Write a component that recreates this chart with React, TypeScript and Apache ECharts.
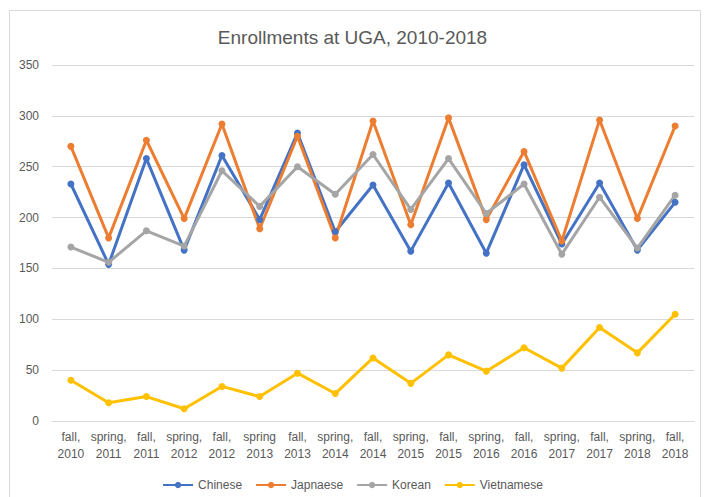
import React, { useEffect, useRef } from "react";
import * as echarts from "echarts";

const categories = [
  "fall,\n2010", "spring,\n2011", "fall,\n2011", "spring,\n2012", "fall,\n2012",
  "spring\n2013", "fall,\n2013", "spring,\n2014", "fall,\n2014", "spring,\n2015",
  "fall,\n2015", "spring,\n2016", "fall,\n2016", "spring,\n2017", "fall,\n2017",
  "spring,\n2018", "fall,\n2018",
];

const chinese = [233, 154, 258, 168, 261, 198, 283, 186, 232, 167, 234, 165, 252, 174, 234, 168, 215];
const japanese = [270, 180, 276, 199, 292, 189, 280, 180, 295, 193, 298, 198, 265, 177, 296, 199, 290];
const korean = [171, 156, 187, 172, 246, 211, 250, 223, 262, 208, 258, 204, 233, 164, 220, 170, 222];
const vietnamese = [40, 18, 24, 12, 34, 24, 47, 27, 62, 37, 65, 49, 72, 52, 92, 67, 105];

const seriesNames = ["Chinese", "Japnaese", "Korean", "Vietnamese"];
const seriesColors = ["#4472C4", "#ED7D31", "#A5A5A5", "#FFC000"];
const seriesData = [chinese, japanese, korean, vietnamese];

export default function App() {
  const ref = useRef<HTMLDivElement>(null);
  useEffect(() => {
    if (!ref.current) return;
    const chart = echarts.init(ref.current, undefined, { renderer: "svg" });
    const font = "Liberation Sans";
    chart.setOption({
      animation: false,
      backgroundColor: "#ffffff",
      title: {
        text: "Enrollments at UGA, 2010-2018",
        left: "center",
        top: 23,
        textStyle: { fontFamily: font, fontSize: 19, fontWeight: "normal", color: "#595959" },
      },
      graphic: [
        {
          type: "rect",
          shape: { x: 9.5, y: 10.5, width: 691, height: 500 },
          style: { fill: "none", stroke: "#D9D9D9", lineWidth: 1 },
          silent: true,
        },
      ],
      legend: {
        bottom: 1,
        left: "center",
        itemWidth: 30,
        itemHeight: 8,
        itemGap: 13,
        textStyle: { fontFamily: font, fontSize: 12, color: "#595959" },
        data: seriesNames,
      },
      grid: { left: 52, right: 11, top: 65, bottom: 76 },
      xAxis: {
        type: "category",
        data: categories,
        boundaryGap: true,
        axisLine: { lineStyle: { color: "#D9D9D9", width: 1 } },
        axisTick: { show: false },
        axisLabel: {
          interval: 0,
          fontFamily: font,
          fontSize: 12,
          color: "#595959",
          lineHeight: 17,
          margin: 7,
        },
      },
      yAxis: {
        type: "value",
        min: 0,
        max: 350,
        interval: 50,
        axisLine: { show: false },
        axisTick: { show: false },
        splitLine: { lineStyle: { color: "#D9D9D9", width: 1 } },
        axisLabel: { fontFamily: font, fontSize: 12, color: "#595959", margin: 13 },
      },
      series: seriesNames.map((name, i) => ({
        name,
        type: "line",
        data: seriesData[i],
        symbol: "circle",
        symbolSize: 7,
        lineStyle: { width: 3, color: seriesColors[i] },
        itemStyle: { color: seriesColors[i] },
      })),
    });
    return () => chart.dispose();
  }, []);
  return (
    <div
      ref={ref}
      style={{ position: "absolute", left: 0, top: 0, width: 705, height: 497 }}
    />
  );
}
